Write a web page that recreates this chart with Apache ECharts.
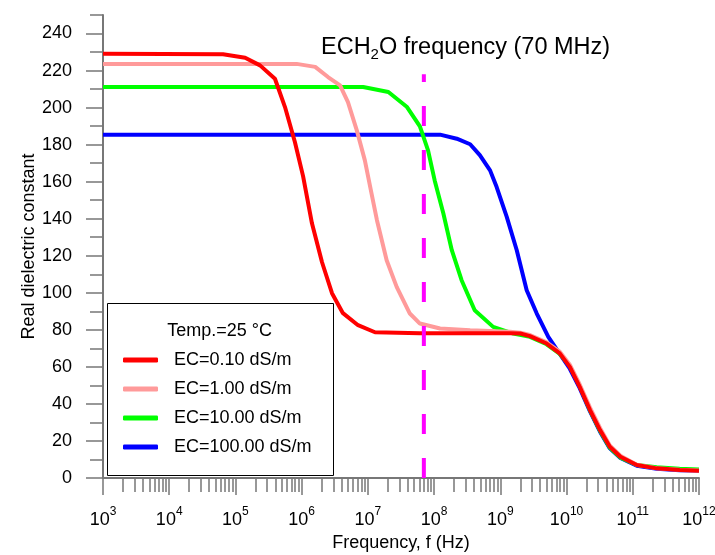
<!DOCTYPE html>
<html><head><meta charset="utf-8">
<script src="https://cdn.jsdelivr.net/npm/echarts@6/dist/echarts.min.js"></script>
<style>html,body{margin:0;padding:0;background:#fff}#c{width:715px;height:555px}</style>
</head><body><div id="c"></div>
<script>
// ---- data ----
const seriesNames = ['EC=0.10 dS/m', 'EC=1.00 dS/m', 'EC=10.00 dS/m', 'EC=100.00 dS/m'];
const seriesColors = ['#ff0000', '#ff9a9a', '#00ff00', '#0000ff'];

const freqRed = [1e3, 6.5e4, 1.4e5, 2.35e5, 3.95e5, 5.6e5, 7.9e5, 1.05e6, 1.43e6, 2.03e6, 2.87e6, 4.2e6, 7.1e6, 1.28e7, 6.1e7, 1.41e9, 2.0e9, 2.8e9, 5.0e9, 7.9e9, 1.12e10, 1.58e10, 2.26e10, 3.2e10, 4.5e10, 6.5e10, 1.15e11, 2.3e11, 5.1e11, 1e12];
const valRed  = [229.1, 228.8, 226.9, 222.8, 215.6, 200.3, 181.4, 163.0, 137.5, 116.5, 99.8, 89.0, 82.5, 78.7, 78.2, 78.2, 78.0, 76.6, 72.6, 67.3, 60.0, 49.2, 36.7, 25.9, 16.9, 11.5, 7.0, 5.2, 4.3, 3.9];

const freqPink = [1e3, 8.4e5, 1.6e6, 2.5e6, 3.8e6, 5.0e6, 6.8e6, 9.0e6, 1.11e7, 1.37e7, 1.92e7, 2.72e7, 4.3e7, 6.1e7, 1.23e8, 3.5e8, 1.4e9, 2.0e9, 2.8e9, 5.0e9, 7.9e9, 1.12e10, 1.58e10, 2.26e10, 3.2e10, 4.5e10, 6.5e10, 1.15e11, 2.3e11, 5.1e11, 1e12];
const valPink  = [223.6, 223.6, 222.0, 216.5, 212.0, 203.0, 187.7, 171.5, 155.3, 139.2, 117.6, 103.2, 88.8, 83.4, 80.7, 79.8, 79.0, 78.5, 77.2, 73.2, 68.2, 61.2, 50.5, 38.0, 27.0, 17.6, 12.0, 7.2, 5.3, 4.4, 4.0];

const freqGreen = [1e3, 8.5e6, 2.04e7, 3.9e7, 6.1e7, 8.1e7, 1.02e8, 1.38e8, 1.85e8, 2.6e8, 4.1e8, 7.8e8, 1.57e9, 2.8e9, 5.0e9, 7.9e9, 1.12e10, 1.58e10, 2.26e10, 3.2e10, 4.5e10, 6.5e10, 1.15e11, 2.3e11, 5.1e11, 1e12];
const valGreen  = [211.1, 211.1, 208.4, 200.3, 189.9, 176.9, 160.7, 142.8, 123.0, 106.8, 90.6, 81.6, 78.0, 76.2, 72.2, 67.0, 60.5, 49.8, 36.5, 25.5, 16.3, 11.0, 7.0, 5.8, 5.0, 4.6];

const freqBlue = [1e3, 1.23e8, 2.2e8, 3.5e8, 4.9e8, 7.0e8, 8.8e8, 1.25e9, 1.77e9, 2.5e9, 3.55e9, 5.3e9, 7.9e9, 1.12e10, 1.58e10, 2.26e10, 3.2e10, 4.5e10, 6.5e10, 1.15e11, 2.3e11, 5.1e11, 1e12];
const valBlue  = [185.4, 185.4, 183.2, 180.2, 174.3, 166.1, 157.1, 141.0, 123.0, 101.4, 88.8, 76.2, 67.0, 59.0, 48.5, 36.0, 25.0, 16.0, 10.8, 6.6, 5.0, 4.2, 4.0];

const markerFreq = 7e7;          // ECH2O frequency
const markerTop = 218;
const yMajorTicks = [0, 20, 40, 60, 80, 100, 120, 140, 160, 180, 200, 220, 240];
const yMinorTicks = [10, 30, 50, 70, 90, 110, 130, 150, 170, 190, 210, 230, 250];
const xDecades = [3, 4, 5, 6, 7, 8, 9, 10, 11, 12];
const xMinorMultipliers = [2, 3, 4, 5, 6, 7, 8, 9];

// ---- build ----
const FONT = '"Liberation Sans", Arial, sans-serif';
const AX = '#777';
const zip = (f, v) => f.map((x, i) => [x, v[i]]);
const xMinorTicks = [];
xDecades.slice(0, -1).forEach(d => xMinorMultipliers.forEach(m => xMinorTicks.push(m * Math.pow(10, d))));

const curves = [
  {name: seriesNames[3], color: seriesColors[3], data: zip(freqBlue, valBlue)},
  {name: seriesNames[2], color: seriesColors[2], data: zip(freqGreen, valGreen)},
  {name: seriesNames[1], color: seriesColors[1], data: zip(freqPink, valPink)},
  {name: seriesNames[0], color: seriesColors[0], data: zip(freqRed, valRed)}
];

const chart = echarts.init(document.getElementById('c'), null, {renderer: 'canvas'});
const option = {
  animation: false,
  backgroundColor: '#fff',
  textStyle: {fontFamily: FONT},
  grid: {left: 103, right: 16, top: 15, bottom: 77, containLabel: false, outerBoundsMode: 'none'},
  title: {
    text: 'ECH{sub|2}O frequency (70 MHz)',
    left: 321, top: 34, padding: 0,
    textStyle: {
      fontFamily: FONT, fontSize: 23.5, fontWeight: 'normal', color: '#000', lineHeight: 28,
      rich: {sub: {fontFamily: FONT, fontSize: 15, lineHeight: 15, verticalAlign: 'bottom', color: '#000'}}
    }
  },
  legend: {
    data: seriesNames.map(n => ({name: n, icon: 'roundRect'})),
    orient: 'vertical',
    left: 123, top: 351, padding: 0,
    itemWidth: 35, itemHeight: 5, itemGap: 11,
    textStyle: {fontFamily: FONT, fontSize: 18, color: '#000', padding: [0, 0, 0, 11], lineHeight: 18}
  },
  graphic: [
    {type: 'rect', z: 1, shape: {x: 107.5, y: 303.5, width: 226, height: 172},
     style: {fill: '#fff', stroke: '#000', lineWidth: 1}},
    {type: 'text', z: 2, x: 219.5, y: 331,
     style: {text: 'Temp.=25 °C', fontFamily: FONT, fontSize: 18, fill: '#000', align: 'center', verticalAlign: 'middle'}}
  ],
  xAxis: [{
    type: 'log', logBase: 10, min: 1e3, max: 1e12,
    name: 'Frequency, f (Hz)', nameLocation: 'middle', nameGap: 56, nameMoveOverlap: false,
    nameTextStyle: {fontFamily: FONT, fontSize: 18, color: '#000'},
    axisLine: {lineStyle: {color: AX, width: 2}},
    axisTick: {length: 17, lineStyle: {color: AX, width: 1.5}},
    axisLabel: {
      margin: 28, color: '#000', fontFamily: FONT, fontSize: 18, lineHeight: 28,
      formatter: v => '10{sup|' + Math.round(Math.log10(v)) + '}',
      rich: {sup: {fontFamily: FONT, fontSize: 12, lineHeight: 12, verticalAlign: 'top', color: '#000'}}
    },
    splitLine: {show: false}, minorSplitLine: {show: false}
  }, {
    type: 'log', logBase: 10, min: 1e3, max: 1e12, position: 'bottom',
    axisLine: {show: false},
    axisTick: {length: 14, customValues: xMinorTicks, lineStyle: {color: AX, width: 1.5}},
    axisLabel: {show: false},
    splitLine: {show: false}
  }],
  yAxis: [{
    type: 'value', min: 0, max: 250,
    name: 'Real dielectric constant', nameLocation: 'middle', nameGap: 65, nameMoveOverlap: false,
    nameTextStyle: {fontFamily: FONT, fontSize: 18, color: '#000'},
    axisLine: {show: true, lineStyle: {color: AX, width: 2}},
    axisTick: {show: true, length: 17, customValues: yMajorTicks, lineStyle: {color: AX, width: 1.5}},
    axisLabel: {margin: 31, color: '#000', fontFamily: FONT, fontSize: 18, customValues: yMajorTicks},
    splitLine: {show: false}
  }, {
    type: 'value', min: 0, max: 250, position: 'left',
    axisLine: {show: false},
    axisTick: {show: true, length: 13, customValues: yMinorTicks, lineStyle: {color: AX, width: 1.5}},
    axisLabel: {show: false},
    splitLine: {show: false}
  }],
  series: curves.map(c => ({
    type: 'line', name: c.name, data: c.data, xAxisIndex: 0, yAxisIndex: 0,
    symbol: 'none', showSymbol: false, color: c.color, z: 3,
    itemStyle: {color: c.color},
    lineStyle: {color: c.color, width: 4}
  })).concat([{
    type: 'line', name: 'ECH2O', data: [[markerFreq, 0], [markerFreq, markerTop]],
    symbol: 'none', z: 4, silent: true,
    lineStyle: {color: '#ff00ff', width: 4, type: [20, 24]}
  }])
};
chart.setOption(option);
</script></body></html>
